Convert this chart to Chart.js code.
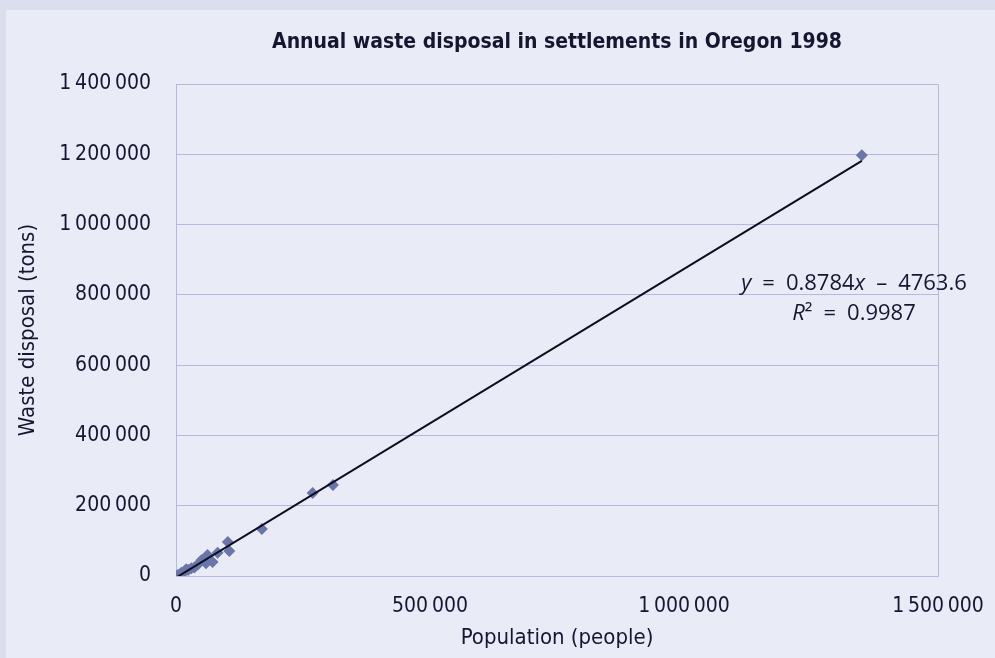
<!DOCTYPE html>
<html>
<head>
<meta charset="utf-8">
<script src="https://cdn.jsdelivr.net/npm/chart.js@4.4.1/dist/chart.umd.min.js"></script>
<style>
  html, body { margin: 0; padding: 0; width: 995px; height: 658px; overflow: hidden; background: #dbdeef; }
  #card { position: absolute; left: 6px; top: 10px; width: 989px; height: 648px; background: #e9ebf6; }
  #wrap { position: absolute; left: 0; top: 0; width: 995px; height: 658px; }
</style>
</head>
<body>
<div id="card"></div>
<div id="wrap"><canvas id="chart" width="995" height="658"></canvas></div>
<script>
// Settlements: population and annual waste disposal (tons)
const population = [1350000, 309000, 269000, 169000, 102000, 105000, 82000, 62000, 72000, 59000, 50000, 43000, 36000, 30000, 24000, 20000, 15000, 10500, 7000, 4000, 1500];
const wasteTons  = [1197000, 259000, 236000, 134000, 97000, 71000, 66000, 60000, 40000, 36000, 45000, 33000, 24000, 22000, 17000, 19000, 10000, 9000, 4000, 2500, 500];

// Linear trend line fitted to the data
const slope = 0.8784;
const intercept = -4763.6;
const rSquared = 0.9987;

const xTicks = [0, 500000, 1000000, 1500000];
const yTicks = [0, 200000, 400000, 600000, 800000, 1000000, 1200000, 1400000];

const titleText = 'Annual waste disposal in settlements in Oregon 1998';
const xTitle = 'Population (people)';
const yTitle = 'Waste disposal (tons)';

const textColor = '#161630';
const gridColor = '#b4b9df';
const narrow = "'DejaVu Sans Condensed', 'DejaVu Sans', sans-serif";

// thousands separated by a thin space
const fmt = v => String(v).replace(/\B(?=(\d{3})+(?!\d))/g, '\u2009');

const points = population.map((p, i) => ({ x: p, y: wasteTons[i] }));
const xMax = Math.max(...population);
const trend = [0, xMax].map(x => ({ x: x, y: slope * x + intercept }));

// Title centred above the plot area, and the regression equation
const overlayText = {
  id: 'overlayText',
  afterDraw(chart) {
    const { ctx, chartArea } = chart;
    ctx.save();
    ctx.fillStyle = textColor;
    ctx.textBaseline = 'alphabetic';
    ctx.textAlign = 'center';
    ctx.font = "bold 21px " + narrow;
    ctx.fillText(titleText, (chartArea.left + chartArea.right) / 2, 48);

    const cx = 854;
    const y1 = 290, y2 = 320;
    const eqFont = "22px 'Open Sans', sans-serif";
    const eqItalic = "italic 22px 'Open Sans', sans-serif";
    const parts1 = [['y', eqItalic], ['\u2002=\u2002' + slope.toFixed(4), eqFont], ['x', eqItalic], ['\u2002\u2013\u2002' + Math.abs(intercept).toFixed(1), eqFont]];
    const parts2 = [['R', eqItalic], ['\u00b2', eqFont], ['\u2002=\u2002' + rSquared.toFixed(4), eqFont]];
    const drawParts = (parts, y) => {
      let w = 0;
      parts.forEach(([t, f]) => { ctx.font = f; w += ctx.measureText(t).width; });
      let x = cx - w / 2;
      ctx.textAlign = 'left';
      parts.forEach(([t, f]) => { ctx.font = f; ctx.fillText(t, x, y); x += ctx.measureText(t).width; });
    };
    drawParts(parts1, y1);
    drawParts(parts2, y2);
    ctx.restore();
  }
};

new Chart(document.getElementById('chart'), {
  type: 'scatter',
  data: {
    datasets: [
      {
        label: 'Settlements',
        data: points,
        pointStyle: 'rectRot',
        pointRadius: 6,
        pointHoverRadius: 6,
        backgroundColor: '#6a76a8',
        borderColor: '#6a76a8',
        borderWidth: 0,
        order: 2
      },
      {
        label: 'Trend',
        type: 'line',
        data: trend,
        showLine: true,
        pointRadius: 0,
        borderColor: '#0d0d22',
        borderWidth: 2,
        fill: false,
        order: 1
      }
    ]
  },
  options: {
    responsive: false,
    animation: false,
    layout: { padding: { left: 6, top: 84, right: 57, bottom: 0 } },
    plugins: { legend: { display: false }, title: { display: false }, tooltip: { enabled: false } },
    scales: {
      x: {
        type: 'linear',
        min: 0, max: 1500000,
        afterBuildTicks: s => { s.ticks = xTicks.map(v => ({ value: v })); },
        afterFit: s => { s.height = 82; s.paddingLeft = 0; s.paddingRight = 0; },
        grid: {
          drawTicks: false,
          color: c => (c.tick && c.tick.value === 1500000) ? gridColor : 'rgba(0,0,0,0)',
          lineWidth: 1
        },
        border: { display: true, color: gridColor, width: 1 },
        ticks: { padding: 18, color: textColor, font: { family: narrow, size: 21 }, callback: v => fmt(v), maxRotation: 0 },
        title: { display: true, text: xTitle, color: textColor, font: { family: narrow, size: 22 }, padding: { top: 0, bottom: 7 } }
      },
      y: {
        type: 'linear',
        min: 0, max: 1400000,
        afterBuildTicks: s => { s.ticks = yTicks.map(v => ({ value: v })); },
        afterFit: s => { s.width = 170; },
        grid: { drawTicks: false, color: gridColor, lineWidth: 1 },
        border: { display: true, color: gridColor, width: 1 },
        ticks: { padding: 25, color: textColor, font: { family: narrow, size: 21 }, callback: v => fmt(v) },
        title: { display: true, text: yTitle, color: textColor, font: { family: narrow, size: 22 }, padding: { top: 9, bottom: 0 } }
      }
    }
  },
  plugins: [overlayText]
});
</script>
</body>
</html>
